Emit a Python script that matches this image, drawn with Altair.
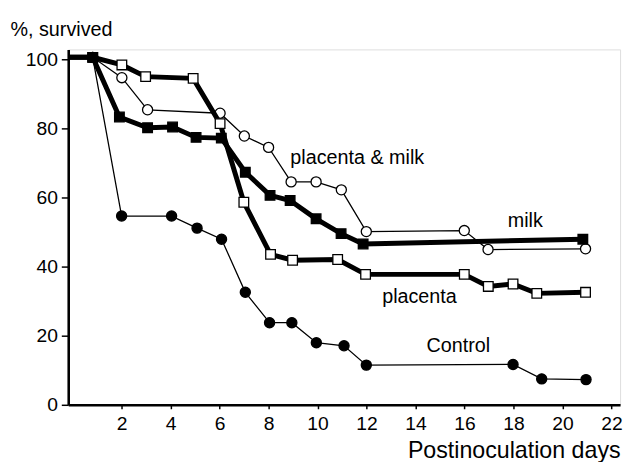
import altair as alt
import pandas as pd

# ---- data ----
start_day, start_val = -1.0, 100.7  # line lead-in from the y axis

control_days = [0.82, 2.0, 4.04, 5.08, 6.08, 7.05, 8.04, 8.95, 9.95, 11.08, 11.99, 17.98, 19.15, 20.96]
control_vals = [100.7, 54.7, 54.7, 51.2, 48.0, 32.6, 23.8, 23.8, 18.0, 17.1, 11.5, 11.7, 7.5, 7.3]

milk_days = [0.82, 1.91, 3.06, 4.08, 5.04, 6.07, 7.05, 8.06, 8.88, 9.94, 10.96, 11.86, 20.83]
milk_vals = [100.7, 83.4, 80.3, 80.5, 77.5, 77.3, 67.4, 60.7, 59.2, 53.9, 49.6, 46.6, 48.0]

placenta_days = [0.82, 2.01, 2.98, 4.92, 6.02, 6.99, 8.08, 8.98, 10.82, 11.96, 15.99, 16.97, 17.98, 18.95, 20.94]
placenta_vals = [100.7, 98.5, 95.1, 94.6, 81.5, 58.7, 43.6, 41.9, 42.1, 37.8, 37.8, 34.3, 35.0, 32.3, 32.6]

pm_days = [0.82, 2.01, 3.06, 6.02, 7.01, 8.0, 8.92, 9.94, 10.97, 11.99, 15.99, 16.96, 20.94]
pm_vals = [100.7, 94.8, 85.5, 84.5, 77.9, 74.6, 64.6, 64.6, 62.3, 50.2, 50.5, 45.0, 45.2]

label_texts = ["placenta & milk", "milk", "placenta", "Control"]
label_days = [11.62, 18.48, 14.16, 15.75]
label_vals = [69.7, 51.6, 29.5, 15.2]

x_ticks = [2, 4, 6, 8, 10, 12, 14, 16, 18, 20, 22]
y_ticks = [0, 20, 40, 60, 80, 100]
X_DOMAIN = [-0.18, 22.35]
Y_DOMAIN = [0, 103]

FONT = "Liberation Sans"

xs = alt.Scale(domain=X_DOMAIN, nice=False, zero=False)
ys = alt.Scale(domain=Y_DOMAIN, nice=False)

x_axis = alt.Axis(values=x_ticks, grid=False, domainColor="black", domainWidth=2.6,
                  tickColor="black", tickSize=4, tickWidth=1.5, labelFontSize=19.5,
                  labelFont=FONT, labelColor="black", labelPadding=6, labelFlush=False,
                  title="Postinoculation days", titleFont=FONT, titleFontSize=23.5,
                  titleFontWeight="normal", titleColor="black", titleAlign="right",
                  titleBaseline="alphabetic", titleX=559, titleY=53)
y_axis = alt.Axis(values=y_ticks, grid=False, domainColor="black", domainWidth=2.6,
                  tickColor="black", tickSize=7, tickWidth=1.5, labelFontSize=19.5,
                  labelFont=FONT, labelColor="black", labelPadding=4, labelFlush=False,
                  title="%, survived", titleFont=FONT, titleFontSize=20,
                  titleFontWeight="normal", titleColor="black", titleAngle=0,
                  titleAlign="left", titleBaseline="alphabetic", titleX=-59, titleY=-14)


def series_layers(days, vals, line_width, shape, filled):
    line_df = pd.DataFrame({"day": [start_day] + days, "val": [start_val] + vals})
    pt_df = pd.DataFrame({"day": days, "val": vals})
    line = alt.Chart(line_df).mark_line(color="black", strokeWidth=line_width, clip=True).encode(
        x=alt.X("day:Q", scale=xs, axis=x_axis),
        y=alt.Y("val:Q", scale=ys, axis=y_axis),
    )
    pts = alt.Chart(pt_df).mark_point(
        shape=shape, filled=True, fill="black" if filled else "white",
        stroke="black", strokeWidth=1.3, size=105 if shape == "circle" else 95, opacity=1
    ).encode(x=alt.X("day:Q", scale=xs), y=alt.Y("val:Q", scale=ys))
    return [line, pts]


layers = []
layers += series_layers(pm_days, pm_vals, 1.3, "circle", False)
layers += series_layers(placenta_days, placenta_vals, 5, "square", False)
layers += series_layers(milk_days, milk_vals, 5, "square", True)
layers += series_layers(control_days, control_vals, 1.3, "circle", True)

lab_df = pd.DataFrame({"t": label_texts, "day": label_days, "val": label_vals})
labels = alt.Chart(lab_df).mark_text(font=FONT, fontSize=20, color="black", align="center",
                                     baseline="alphabetic").encode(
    x=alt.X("day:Q", scale=xs), y=alt.Y("val:Q", scale=ys), text="t:N")
layers.append(labels)

chart = alt.layer(*layers).properties(
    width=559, height=360,
    autosize=alt.AutoSizeParams(type="none"),
    padding={"left": 61, "top": 39, "right": 6, "bottom": 55},
).configure_view(stroke=None).configure(background="white")

chart.save("out.html", embed_options={"renderer": "svg", "actions": False})
